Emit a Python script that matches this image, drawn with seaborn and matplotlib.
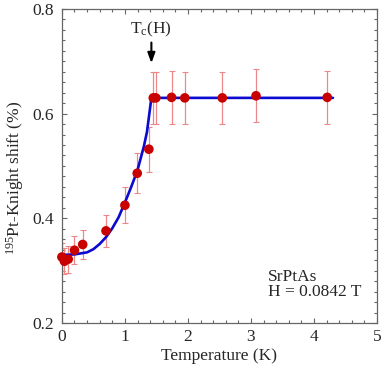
import matplotlib
matplotlib.use("Agg")
import matplotlib.pyplot as plt
import seaborn as sns
import pandas as pd
from matplotlib.ticker import MultipleLocator

# Data
temp_K = [0.0, 0.04, 0.10, 0.20, 0.33, 0.70, 1.00, 1.195, 1.38, 1.45, 1.49, 1.74, 1.95, 2.545, 3.08, 4.21]
shift = [0.326, 0.318, 0.322, 0.339, 0.350, 0.376, 0.425, 0.486, 0.532, 0.630, 0.630, 0.631, 0.630, 0.630, 0.634, 0.631]
shift_err = [0.026, 0.025, 0.026, 0.027, 0.028, 0.030, 0.034, 0.038, 0.043, 0.050, 0.050, 0.050, 0.050, 0.050, 0.051, 0.050]

fit_T = [0.0, 0.2, 0.4, 0.5, 0.6, 0.7, 0.8, 0.9, 1.0, 1.1, 1.2, 1.3, 1.35, 1.42, 4.3]
fit_K = [0.330, 0.331, 0.335, 0.341, 0.351, 0.364, 0.381, 0.402, 0.430, 0.460, 0.492, 0.537, 0.565, 0.630, 0.630]

x_ticks = [0, 1, 2, 3, 4, 5]
y_ticks = [0.2, 0.4, 0.6, 0.8]

sns.set_style("ticks")
plt.rcParams['font.family'] = ['Liberation Serif', 'DejaVu Serif']
plt.rcParams['mathtext.fontset'] = 'custom'
plt.rcParams['mathtext.rm'] = 'Liberation Serif'
plt.rcParams['mathtext.it'] = 'Liberation Serif:italic'

FS = 12.5

fig = plt.figure(figsize=(3.82, 3.70), dpi=100)
ax = fig.add_axes([0.162, 0.127, 0.825, 0.849])

pts = pd.DataFrame({"T": temp_K, "K": shift, "err": shift_err})
fit = pd.DataFrame({"T": fit_T, "K": fit_K})

ax.errorbar(pts["T"], pts["K"], yerr=pts["err"], fmt="none", ecolor="#ee8888",
            elinewidth=0.9, capsize=2.2, capthick=0.8, zorder=2)
sns.lineplot(data=fit, x="T", y="K", ax=ax, color="#0a0ad0", linewidth=1.9,
             sort=False, zorder=3)
sns.scatterplot(data=pts, x="T", y="K", ax=ax, color="#c80000", s=48,
                edgecolor="none", zorder=4, clip_on=False)

ax.set_xlim(0, 5)
ax.set_ylim(0.2, 0.8)
ax.set_xticks(x_ticks)
ax.set_yticks(y_ticks)
ax.set_xticklabels([str(t) for t in x_ticks])
ax.set_yticklabels([f"{t:.1f}" for t in y_ticks])
ax.xaxis.set_minor_locator(MultipleLocator(0.2))
ax.yaxis.set_minor_locator(MultipleLocator(0.02))
ax.tick_params(which="both", direction="in", top=True, right=True,
               labelsize=FS, color="#666666", width=0.8)
ax.tick_params(which="major", length=3.5)
ax.tick_params(which="minor", length=2)
ax.tick_params(axis="x", which="major", pad=4.5)
ax.tick_params(axis="y", which="major", pad=6)
for s in ax.spines.values():
    s.set_color("#666666")
    s.set_linewidth(0.9)

ax.set_xlabel("Temperature (K)", fontsize=FS, labelpad=2)
ax.set_ylabel("$^{195}$Pt-Knight shift (%)", fontsize=FS)
ax.yaxis.set_label_coords(-0.115, 0.463)

ax.annotate("", xy=(1.42, 0.691), xytext=(1.42, 0.741),
            arrowprops=dict(arrowstyle="-|>,head_width=0.22,head_length=0.6",
                            color="black", lw=1.5))
ax.text(1.42, 0.753, "T$_\\mathrm{c}$(H)", ha="center", va="baseline", fontsize=FS)

ax.text(3.265, 0.280, "SrPtAs", ha="left", va="baseline", fontsize=FS)
ax.text(3.265, 0.252, "H = 0.0842 T", ha="left", va="baseline", fontsize=FS)

fig.savefig("out.png", dpi=100)
